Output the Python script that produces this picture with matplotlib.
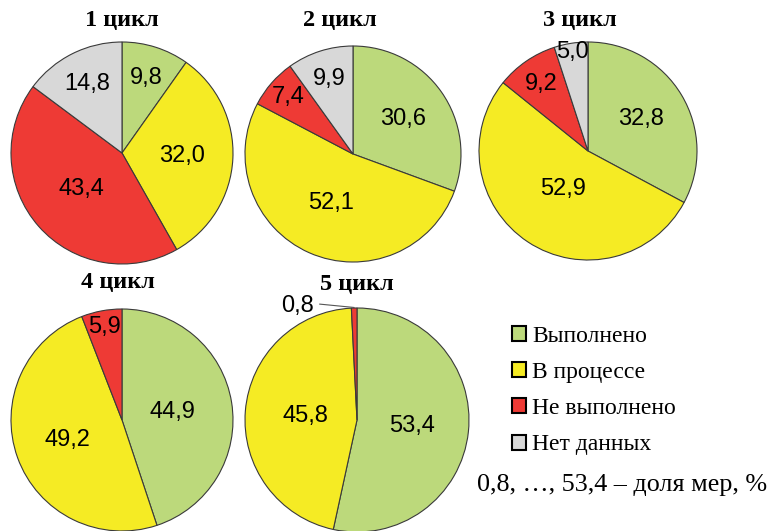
import matplotlib
matplotlib.use('Agg')
import matplotlib.pyplot as plt
from matplotlib.patches import Patch
import numpy as np

W, H = 770, 531

titles = ['1 цикл', '2 цикл', '3 цикл', '4 цикл', '5 цикл']
categories = ['Выполнено', 'В процессе', 'Не выполнено', 'Нет данных']
colors = ['#bcd97b', '#f5eb24', '#ee3a35', '#d8d8d8']

cycle1 = [9.8, 32.0, 43.4, 14.8]
cycle2 = [30.6, 52.1, 7.4, 9.9]
cycle3 = [32.8, 52.9, 9.2, 5.0]
cycle4 = [44.9, 49.2, 5.9]
cycle5 = [53.4, 45.8, 0.8]
values = [cycle1, cycle2, cycle3, cycle4, cycle5]

# layout in pixels: pie center x, y, radius
pies = [(122, 153, 111), (353, 154, 108), (588, 151, 109), (122, 420, 111), (357, 420, 112)]
title_pos = [(122, 20), (340, 20), (580, 20), (118, 283), (357, 285)]
# radial position of each value label (fraction of radius), None = outside
label_r = [[0.71, 0.54, 0.49, 0.70],
           [0.57, 0.50, 0.80, 0.73],
           [0.57, 0.42, 0.75, 0.92],
           [0.46, 0.52, 0.85],
           [0.49, 0.46, None]]


def fmt(v):
    return f'{v:.1f}'.replace('.', ',')


fig = plt.figure(figsize=(W / 100, H / 100), dpi=100)

for i, vals in enumerate(values):
    cx, cy, r = pies[i]
    ax = fig.add_axes([(cx - r) / W, 1 - (cy + r) / H, 2 * r / W, 2 * r / H])
    wedges, _ = ax.pie(vals, colors=colors[:len(vals)], startangle=90, counterclock=False,
                       radius=1, wedgeprops=dict(edgecolor='#3a3a3a', linewidth=0.8))
    ax.set_xlim(-1, 1)
    ax.set_ylim(-1, 1)
    ax.set_aspect('equal')
    ax.axis('off')
    for w, v, fr in zip(wedges, vals, label_r[i]):
        ang = np.deg2rad((w.theta1 + w.theta2) / 2)
        if fr is None:
            ax.annotate(fmt(v), xy=(np.cos(ang), np.sin(ang) * 1.005), xytext=(-0.53, 1.02),
                        ha='center', va='center', fontsize=17, family='Liberation Sans',
                        annotation_clip=False,
                        arrowprops=dict(arrowstyle='-', color='#555555', lw=0.8,
                                        shrinkA=2, shrinkB=0, relpos=(1, 0.6)))
        else:
            ax.text(fr * np.cos(ang), fr * np.sin(ang), fmt(v), ha='center', va='center',
                    fontsize=17, family='Liberation Sans')
    tx, ty = title_pos[i]
    fig.text(tx / W, 1 - ty / H, titles[i], ha='center', va='center', fontsize=17.5,
             family='Liberation Serif', fontweight='bold')

handles = [Patch(facecolor=c, edgecolor='black', linewidth=1.5) for c in colors]
fig.legend(handles, categories, loc='upper left', bbox_to_anchor=(512 / W, 1 - 326 / H),
           frameon=False, prop={'family': 'Liberation Serif', 'size': 17},
           handlelength=0.6, handleheight=0.6, handletextpad=0.25, labelspacing=0.64,
           borderpad=0, borderaxespad=0)
fig.text(477 / W, 1 - 485 / H, '0,8, …, 53,4 – доля мер, %', ha='left', va='center',
         fontsize=18.8, family='Liberation Serif')

fig.savefig('out.png', dpi=100)
